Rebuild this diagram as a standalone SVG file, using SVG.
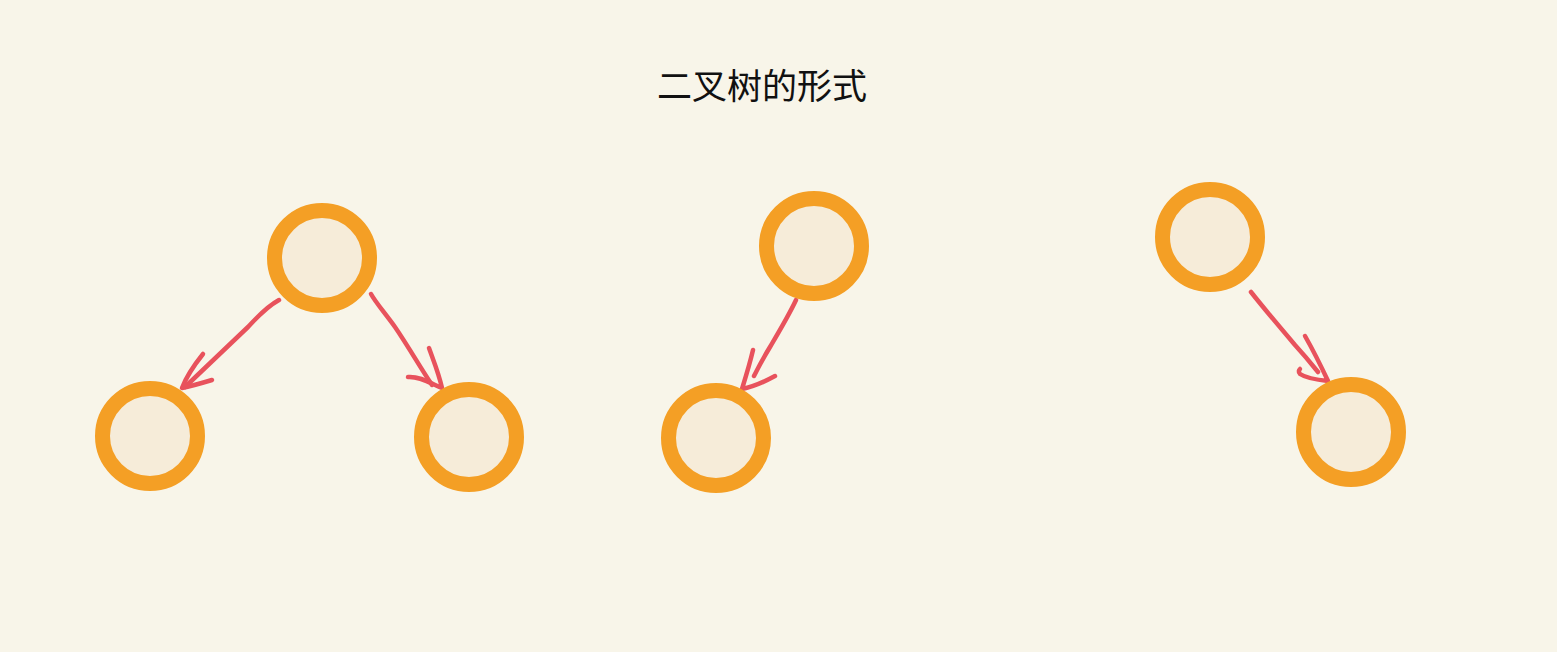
<svg xmlns="http://www.w3.org/2000/svg" width="1557" height="652" viewBox="0 0 1557 652">
<style>
.node{fill:#F6ECD9;stroke:#F49F25;stroke-width:15}
.edge{fill:none;stroke:#E8525C;stroke-width:4.5;stroke-linecap:round;stroke-linejoin:round}
.title{font-family:"Noto Sans CJK SC","Noto Sans",sans-serif;font-size:35px;fill:#111111}
</style>
<rect width="1557" height="652" fill="#F8F5E9"/>
<text class="title" x="762" y="99" text-anchor="middle">二叉树的形式</text>
<g id="connectors">
<g id="e1"><path class="edge" d="M279,300 C268,306 258,316 248,327 L185,387"/><path class="edge" d="M203,354 C195,364 187,375 182,388 C192,386 202,383 212,380"/></g>
<g id="e2"><path class="edge" d="M371,294 C376,303 385,313 395,327 C408,346 420,367 432,385"/><path class="edge" d="M429,348 C434,362 439,374 442,388 C432,384 420,376 408,377"/></g>
<g id="e3"><path class="edge" d="M796,300 C789,315 780,330 770,347 C762,360 757,370 754,376"/><path class="edge" d="M753,350 C750,363 746,376 742,389 C752,387 764,382 775,376"/></g>
<g id="e4"><path class="edge" d="M1251,292 C1262,306 1278,325 1295,345 C1306,357 1314,367 1318,372"/><path class="edge" d="M1305,336 C1313,350 1321,366 1328,381 C1318,380 1306,378 1300,374 C1298,372 1299,370 1300,369"/></g>
</g>
<g id="n1"><circle class="node" cx="322" cy="258" r="47.5"/></g>
<g id="n2"><circle class="node" cx="150" cy="436" r="47.5"/></g>
<g id="n3"><circle class="node" cx="469" cy="437" r="47.5"/></g>
<g id="n4"><circle class="node" cx="814" cy="246" r="47.5"/></g>
<g id="n5"><circle class="node" cx="716" cy="438" r="47.5"/></g>
<g id="n6"><circle class="node" cx="1210" cy="237" r="47.5"/></g>
<g id="n7"><circle class="node" cx="1351" cy="432" r="47.5"/></g>
</svg>
